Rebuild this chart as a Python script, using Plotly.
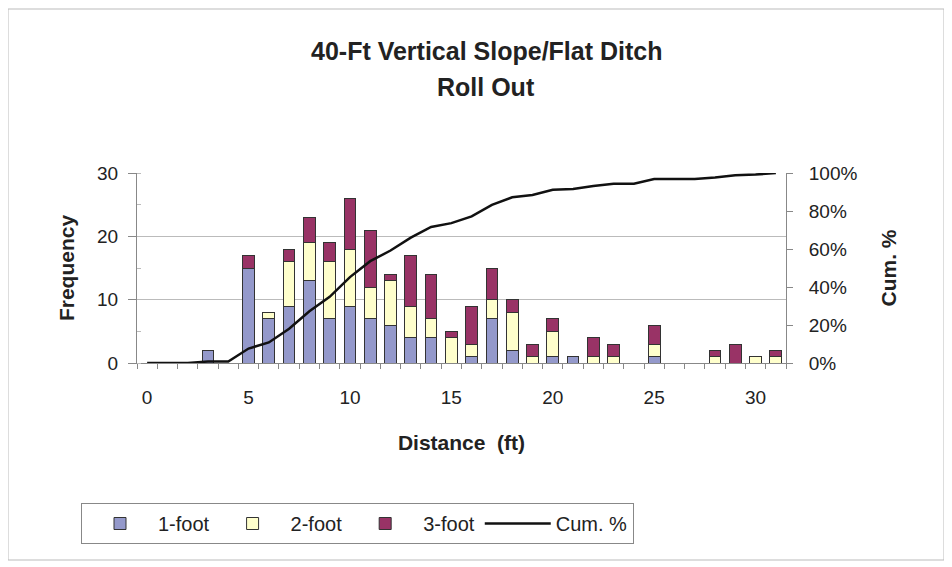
import plotly.graph_objects as go

# Distance categories (ft)
distance = list(range(0, 32))

# Frequencies per category
one_foot = [0, 0, 0, 2, 0, 15, 7, 9, 13, 7, 9, 7, 6, 4, 4, 0,
            1, 7, 2, 0, 1, 1, 0, 0, 0, 1, 0, 0, 0, 0, 0, 0]
two_foot = [0, 0, 0, 0, 0, 0, 1, 7, 6, 9, 9, 5, 7, 5, 3, 4,
            2, 3, 6, 1, 4, 0, 1, 1, 0, 2, 0, 0, 1, 0, 1, 1]
three_foot = [0, 0, 0, 0, 0, 2, 0, 2, 4, 3, 8, 9, 1, 8, 7, 1,
              6, 5, 2, 2, 2, 0, 3, 2, 0, 3, 0, 0, 1, 3, 0, 1]

y_ticks = [0, 10, 20, 30]
y2_ticks = [0, 0.2, 0.4, 0.6, 0.8, 1.0]
x_ticks = [0, 5, 10, 15, 20, 25, 30]

totals = [a + b + c for a, b, c in zip(one_foot, two_foot, three_foot)]
grand = sum(totals)
cum_pct = []
run = 0
for t in totals:
    run += t
    cum_pct.append(run / grand)

FONT = "Liberation Sans, Arial, sans-serif"
edge = dict(color="#333333", width=1)

fig = go.Figure()
fig.add_trace(go.Bar(x=distance, y=one_foot, name="1-foot",
                     marker=dict(color="#9499CB", line=edge)))
fig.add_trace(go.Bar(x=distance, y=two_foot, name="2-foot",
                     marker=dict(color="#FFFFCC", line=edge)))
fig.add_trace(go.Bar(x=distance, y=three_foot, name="3-foot",
                     marker=dict(color="#993366", line=edge)))
fig.add_trace(go.Scatter(x=distance, y=cum_pct, name="Cum. %", mode="lines",
                         yaxis="y2", line=dict(color="#111111", width=2.5)))

# the page body adds an 8px offset, so the figure is 8px smaller
OFF = 8
W, H = 952 - OFF, 567 - OFF
L, R, T, B = 137 - OFF, 786 - OFF, 173 - OFF, 363 - OFF


def px(x):
    return (x - OFF - L) / (R - L)


def py(y):
    return (B - (y - OFF)) / (B - T)


fig.update_layout(
    width=W, height=H,
    margin=dict(l=L, r=W - R, t=T, b=H - B, pad=0, autoexpand=False),
    paper_bgcolor="white", plot_bgcolor="white",
    barmode="stack", bargap=0.42,
    font=dict(family=FONT, size=18, color="#222222"),
    showlegend=True,
    legend=dict(orientation="h", x=px(81), y=py(503),
                xanchor="left", yanchor="top",
                bordercolor="#888888", borderwidth=1,
                font=dict(size=20, color="#222222"),
                itemwidth=66, traceorder="normal"),
    xaxis=dict(range=[-0.5, 31.5], tickmode="array", tickvals=x_ticks,
               ticks="", showgrid=False, zeroline=False,
               showline=True, linecolor="#888888",
               tickfont=dict(size=19), ticklabelstandoff=17,
               minor=dict(ticks="outside", tickmode="linear", tick0=0.5, dtick=1,
                          ticklen=5, tickcolor="#888888", showgrid=False),
               title=dict(text="<b>Distance  (ft)</b>", font=dict(size=21), standoff=28)),
    yaxis=dict(range=[0, 30], tickmode="array", tickvals=y_ticks,
               ticks="outside", ticklen=8, tickcolor="#888888",
               showgrid=True, gridcolor="#BBBBBB", gridwidth=1,
               zeroline=False, showline=True, linecolor="#888888",
               tickfont=dict(size=19), ticklabelstandoff=6,
               minor=dict(ticks="inside", tickmode="linear", dtick=5, ticklen=4,
                          tickcolor="#BBBBBB", showgrid=False),
               title=dict(text="<b>Frequency</b>", font=dict(size=21), standoff=16)),
    yaxis2=dict(range=[0, 1], overlaying="y", side="right",
                tickmode="array", tickvals=y2_ticks, tickformat=".0%",
                ticks="outside", ticklen=6, tickcolor="#888888",
                showgrid=False, zeroline=False, showline=True, linecolor="#888888",
                tickfont=dict(size=19), ticklabelstandoff=12,
                title=dict(text="<b>Cum. %</b>", font=dict(size=21), standoff=24)),
)

# Chart title (two lines)
fig.add_annotation(text="<b>40-Ft Vertical Slope/Flat Ditch</b>", xref="paper", yref="paper",
                   x=px(486), y=py(51), showarrow=False,
                   xanchor="center", yanchor="middle", font=dict(size=25, color="#222222"))
fig.add_annotation(text="<b>Roll Out</b>", xref="paper", yref="paper",
                   x=px(486), y=py(87), showarrow=False,
                   xanchor="center", yanchor="middle", font=dict(size=25, color="#222222"))

# Outer chart frame
fig.add_shape(type="rect", xref="paper", yref="paper",
              x0=px(8), x1=px(944), y0=py(560), y1=py(9),
              line=dict(color="#BBBBBB", width=1), fillcolor="rgba(0,0,0,0)", layer="below")

fig.write_html("out.html")
